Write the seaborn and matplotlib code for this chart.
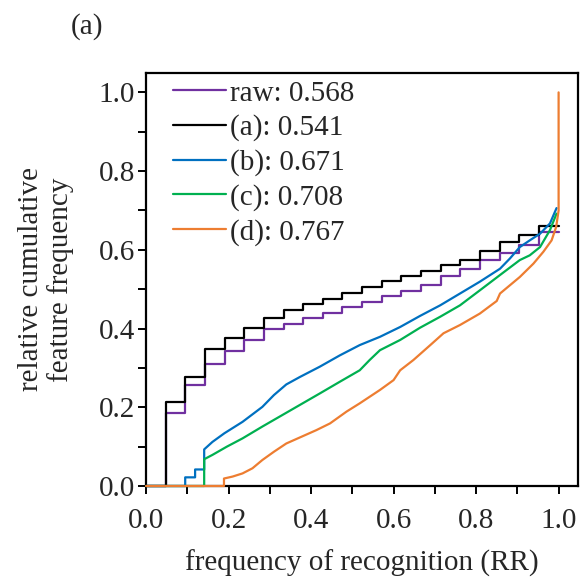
import matplotlib
matplotlib.use("Agg")
import matplotlib.pyplot as plt
import numpy as np
import pandas as pd
import seaborn as sns

# Recognition-rate levels (21 evaluation images -> steps of 1/21)
rr_levels = [k / 21 for k in range(22)]

# Step values of the cumulative curves for the raw set and variant (a)
raw_vals = [0.0, 0.186, 0.256, 0.311, 0.343, 0.371, 0.398, 0.412, 0.426, 0.440, 0.454,
            0.468, 0.482, 0.496, 0.510, 0.533, 0.552, 0.574, 0.592, 0.612, 0.645, 0.645]
a_vals = [0.0, 0.214, 0.277, 0.348, 0.375, 0.402, 0.426, 0.447, 0.462, 0.476, 0.491,
          0.506, 0.520, 0.533, 0.547, 0.561, 0.575, 0.597, 0.620, 0.637, 0.660, 0.660]

# Finer-grained cumulative curves for variants (b), (c), (d)
b_x = [0.0, 0.095, 0.095, 0.119, 0.119, 0.141, 0.141, 0.161, 0.190, 0.234, 0.282, 0.310,
       0.340, 0.373, 0.421, 0.470, 0.518, 0.567, 0.616, 0.664, 0.713, 0.761, 0.809, 0.858,
       0.882, 0.906, 0.930, 0.955, 0.979, 0.995]
b_y = [0.0, 0.0, 0.022, 0.022, 0.042, 0.042, 0.093, 0.112, 0.134, 0.163, 0.201, 0.231,
       0.258, 0.277, 0.303, 0.332, 0.358, 0.379, 0.404, 0.432, 0.459, 0.489, 0.519, 0.552,
       0.578, 0.607, 0.624, 0.641, 0.667, 0.706]

c_x = [0.0, 0.141, 0.141, 0.161, 0.196, 0.234, 0.282, 0.330, 0.373, 0.421, 0.470, 0.518,
       0.542, 0.567, 0.616, 0.664, 0.713, 0.761, 0.809, 0.858, 0.906, 0.930, 0.955, 0.979,
       0.995]
c_y = [0.0, 0.0, 0.068, 0.079, 0.100, 0.121, 0.151, 0.180, 0.206, 0.235, 0.265, 0.294,
       0.320, 0.345, 0.371, 0.402, 0.430, 0.459, 0.497, 0.536, 0.574, 0.586, 0.607, 0.650,
       0.692]

d_x = [0.0, 0.189, 0.189, 0.210, 0.234, 0.258, 0.282, 0.310, 0.340, 0.413, 0.446, 0.486,
       0.518, 0.567, 0.600, 0.616, 0.648, 0.689, 0.721, 0.761, 0.809, 0.850, 0.858, 0.906,
       0.939, 0.963, 0.983, 0.994, 1.0, 1.0]
d_y = [0.0, 0.0, 0.019, 0.024, 0.032, 0.045, 0.066, 0.087, 0.108, 0.142, 0.159, 0.189,
       0.210, 0.244, 0.269, 0.294, 0.320, 0.358, 0.388, 0.409, 0.438, 0.470, 0.489, 0.531,
       0.565, 0.595, 0.624, 0.658, 0.700, 1.0]

labels = ["raw: 0.568", "(a): 0.541", "(b): 0.671", "(c): 0.708", "(d): 0.767"]
colors = ["#7030A0", "#000000", "#0070C0", "#00B050", "#ED7D31"]

sns.set_style("ticks")
plt.rcParams["font.family"] = ["Liberation Serif", "DejaVu Serif"]
plt.rcParams["font.size"] = 21

fig = plt.figure(figsize=(5.81, 5.77), dpi=100)
ax = fig.add_axes([146 / 581, 91 / 577, 432 / 581, 413.3 / 577])

lw = 1.6
step_df = pd.DataFrame({"rr": rr_levels * 2,
                        "freq": raw_vals + a_vals,
                        "set": [labels[0]] * 22 + [labels[1]] * 22})
for lab, col in zip(labels[:2], colors[:2]):
    sub = step_df[step_df["set"] == lab]
    sns.lineplot(data=sub, x="rr", y="freq", ax=ax, color=col, lw=lw,
                 drawstyle="steps-post", label=lab, sort=False, estimator=None)

for (xs, ys), lab, col in zip([(b_x, b_y), (c_x, c_y), (d_x, d_y)], labels[2:], colors[2:]):
    sns.lineplot(x=xs, y=ys, ax=ax, color=col, lw=lw, label=lab,
                 sort=False, estimator=None)

# let the curves sit on top of the frame where they run along y = 0
for ln in ax.get_lines():
    ln.set_clip_on(False)
    ln.set_zorder(3)

ax.set_xlim(0, 1.047)
ax.set_ylim(0, 1.05)
ax.set_xticks(np.arange(0, 1.01, 0.2))
ax.set_yticks(np.arange(0, 1.01, 0.2))
ax.set_xticks(np.arange(0.1, 1.0, 0.2), minor=True)
ax.set_yticks(np.arange(0.1, 1.0, 0.2), minor=True)
ax.xaxis.set_major_formatter(matplotlib.ticker.FormatStrFormatter("%.1f"))
ax.yaxis.set_major_formatter(matplotlib.ticker.FormatStrFormatter("%.1f"))
ax.tick_params(which="both", direction="out", length=6, width=1.4, color="black")
ax.tick_params(axis="x", pad=10, labelsize=21)
ax.tick_params(axis="y", pad=2, labelsize=21)

for sp in ax.spines.values():
    sp.set_visible(True)
    sp.set_linewidth(1.6)
    sp.set_color("black")
    sp.set_zorder(2.5)

ax.set_xlabel("frequency of recognition (RR)", fontsize=21)
ax.xaxis.label.set_va("center")
ax.xaxis.set_label_coords(0.5, (486 - 563) / 413.3)
ax.set_ylabel("relative cumulative\nfeature frequency", fontsize=21, linespacing=1.15)
ax.yaxis.label.set_va("center")
ax.yaxis.set_label_coords((46 - 146) / 432, 0.5)

leg = ax.legend(loc="upper left", bbox_to_anchor=(27 / 432, 0.982), frameon=False,
                handlelength=1.8, handletextpad=0.15, labelspacing=0.27,
                borderpad=0, borderaxespad=0, fontsize=21)
for h in leg.get_lines():
    h.set_linewidth(lw)

fig.text(87 / 581, 1 - 27 / 577, "(a)", ha="center", va="center", fontsize=21)

fig.savefig("out.png", dpi=100)
